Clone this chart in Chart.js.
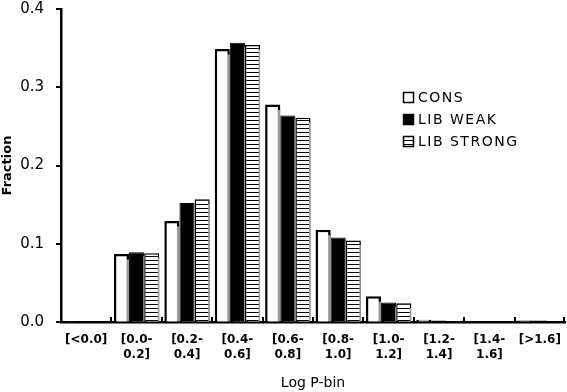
<!DOCTYPE html>
<html><head><meta charset="utf-8">
<script src="https://cdn.jsdelivr.net/npm/chart.js@4/dist/chart.umd.min.js"></script>
<style>html,body{margin:0;padding:0;background:#fff}#wrap{width:567px;height:392px}</style>
</head><body><div id="wrap"><canvas id="c" width="567" height="392"></canvas></div>
<script>
const categories = [["[<0.0]"],["[0.0-","0.2]"],["[0.2-","0.4]"],["[0.4-","0.6]"],["[0.6-","0.8]"],["[0.8-","1.0]"],["[1.0-","1.2]"],["[1.2-","1.4]"],["[1.4-","1.6]"],["[>1.6]"]];
const seriesNames = ["CONS","LIB WEAK","LIB STRONG"];
const consValues   = [0.001,0.087,0.129,0.349,0.278,0.118,0.033,0.003,0.001,0.002];
const weakValues   = [0.0005,0.089,0.152,0.357,0.264,0.108,0.025,0.002,0.001,0.002];
const strongValues = [0.0005,0.088,0.157,0.354,0.261,0.104,0.024,0.001,0.0005,0.001];
const yTicks = [0,0.1,0.2,0.3,0.4];

function stripePattern(){
  const p=document.createElement('canvas'); p.width=4; p.height=4;
  const g=p.getContext('2d'); g.fillStyle='#fff'; g.fillRect(0,0,4,4);
  g.fillStyle='#000'; g.fillRect(0,0,4,1);
  return document.getElementById('c').getContext('2d').createPattern(p,'repeat');
}
const stripes = stripePattern();
const FONT='"DejaVu Sans", Verdana, sans-serif';

const shadowPlugin={id:'shadow',
  beforeDatasetsDraw(chart){const c=chart.ctx;c.save();c.shadowColor='#999';c.shadowOffsetX=3;c.shadowOffsetY=3;c.shadowBlur=0;},
  afterDatasetsDraw(chart){chart.ctx.restore();}
};
const extrasPlugin={id:'extras',
  afterDraw(chart){
    const c=chart.ctx, x=chart.scales.x, y=chart.scales.y, a=chart.chartArea;
    c.save(); c.strokeStyle='#000'; c.lineWidth=2;
    for(let i=0;i<=categories.length;i++){
      const px = i<categories.length ? x.getPixelForValue(i)-x.width/categories.length/2 : a.right-1;
      c.beginPath(); c.moveTo(Math.round(px),a.bottom); c.lineTo(Math.round(px),a.bottom-5); c.stroke();
    }
    yTicks.forEach(v=>{
      const py=Math.round(y.getPixelForValue(v));
      c.beginPath(); c.moveTo(a.left-5,py); c.lineTo(a.left,py); c.stroke();
    });
    // legend
    const lx=403, ly=[98,120,142];
    c.font='14px '+FONT; c.textBaseline='middle'; c.fillStyle='#000';
    try{ c.letterSpacing='1.5px'; }catch(e){}
    chart.data.datasets.forEach((d,i)=>{
      const yy=ly[i];
      c.fillStyle=d.backgroundColor; c.fillRect(lx,yy-6,11,11);
      c.strokeStyle='#000'; c.lineWidth=1.5; c.strokeRect(lx+0.5,yy-5.5,10,10);
      c.fillStyle='#000'; c.fillText(d.label,lx+15,yy);
    });
    c.restore();
  }
};

new Chart(document.getElementById('c'),{
  type:'bar',
  data:{labels:categories,datasets:[
    {label:seriesNames[0],data:consValues,backgroundColor:'#fff',borderColor:'#000',borderWidth:2.5},
    {label:seriesNames[1],data:weakValues,backgroundColor:'#000',borderColor:'#000',borderWidth:1},
    {label:seriesNames[2],data:strongValues,backgroundColor:stripes,borderColor:'#000',borderWidth:1.5}
  ]},
  options:{
    responsive:false,animation:false,
    layout:{padding:{top:0,right:2,left:0,bottom:0}},
    datasets:{bar:{categoryPercentage:0.9,barPercentage:1.0,borderSkipped:'bottom'}},
    plugins:{legend:{display:false},tooltip:{enabled:false}},
    scales:{
      x:{
        grid:{display:true,drawOnChartArea:false,drawTicks:true,tickLength:11,color:'rgba(0,0,0,0)'},
        border:{display:true,color:'#000',width:2.5},
        ticks:{color:'#000',font:{family:FONT,size:12,weight:'bold'},padding:0,maxRotation:0,autoSkip:false},
        title:{display:true,text:'Log P-bin',color:'#000',font:{family:FONT,size:14},padding:{top:6,bottom:0}},
        afterFit(s){s.height=70;}
      },
      y:{
        min:0,max:0.4,
        afterBuildTicks(s){s.ticks=yTicks.map(v=>({value:v}));},
        grid:{display:true,drawOnChartArea:false,drawTicks:true,tickLength:17,color:'rgba(0,0,0,0)'},
        border:{display:true,color:'#000',width:2.5},
        ticks:{color:'#000',font:{family:FONT,size:15},padding:0,callback:v=>Number(v).toFixed(1)},
        title:{display:true,text:'Fraction',color:'#000',font:{family:FONT,size:13,weight:'bold'},padding:{top:0,bottom:2}},
        afterFit(s){s.width=61;}
      }
    }
  },
  plugins:[shadowPlugin,extrasPlugin]
});
</script></body></html>
